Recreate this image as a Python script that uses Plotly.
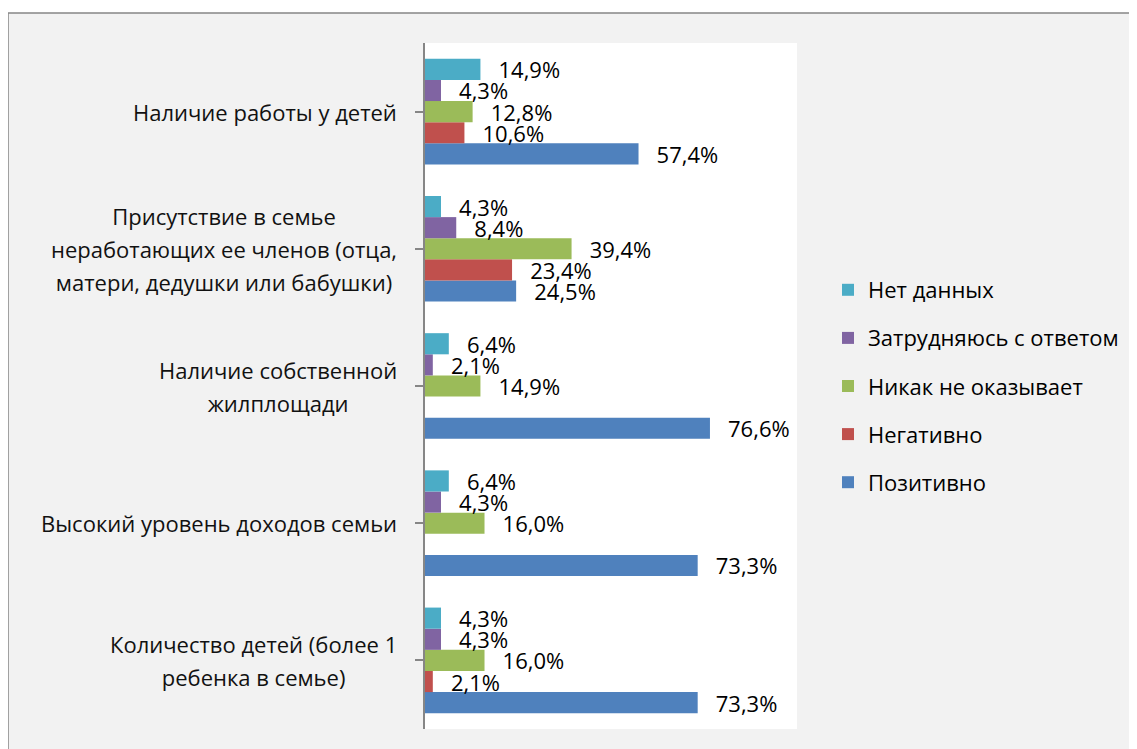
import plotly.graph_objects as go

# ---- data (bottom-to-top order, as in the source spreadsheet) ----
categories = [
    "Количество детей (более 1<br>ребенка в семье)",
    "Высокий уровень доходов семьи",
    "Наличие собственной<br>жилплощади",
    "Присутствие в семье<br>неработающих ее членов (отца,<br>матери, дедушки или бабушки)",
    "Наличие работы у детей",
]
series_names = ["Позитивно", "Негативно", "Никак не оказывает", "Затрудняюсь с ответом", "Нет данных"]
pozitivno = [73.3, 73.3, 76.6, 24.5, 57.4]
negativno = [2.1, None, None, 23.4, 10.6]
nikak = [16.0, 16.0, 14.9, 39.4, 12.8]
zatrud = [4.3, 4.3, 2.1, 8.4, 4.3]
net_dannyh = [4.3, 6.4, 6.4, 4.3, 14.9]
series_values = [pozitivno, negativno, nikak, zatrud, net_dannyh]
colors = ["#4F81BD", "#C0504D", "#9BBB59", "#8064A2", "#4BACC6"]

FONT = "Open Sans"
FS = 22

W, H = 1137, 749
ML, MR, MT, MB = 417, 348, 35, 28
PW, PH = W - ML - MR, H - MT - MB

def fmt(v):
    return "" if v is None else "\u00a0\u00a0\u2009" + f"{v:.1f}".replace(".", ",") + "%"

cat_ids = list(range(len(categories)))

fig = go.Figure()
n = len(series_names)
for i, (name, vals, col) in enumerate(zip(series_names, series_values, colors)):
    fig.add_trace(go.Bar(
        y=cat_ids, x=vals, orientation="h", name=name,
        marker=dict(color=col, line=dict(width=0)),
        text=[fmt(v) for v in vals], textposition="outside",
        textfont=dict(family=FONT, size=FS, color="#000000"),
        constraintext="none", cliponaxis=False,
        legendgroup=name, legendrank=n - i,
    ))

# category labels as centred multi-line annotations
for i, c in enumerate(categories):
    lines = c.split("<br>")
    txt = "<br>".join(f'<span style="font-size:{FS}px">{ln}</span>' for ln in lines)
    fig.add_annotation(
        x=0, xref="paper", y=i, yref="y", text=txt, showarrow=False,
        xanchor="right", yanchor="middle", align="center", xshift=-26,
        font=dict(family=FONT, size=25.5, color="#111111"),
    )

def px2x(px):
    return (px - ML) / PW

def py2y(py):
    return (H - MB - py) / PH

shapes = [
    dict(type="rect", xref="paper", yref="paper",
         x0=px2x(0), x1=px2x(W + 20), y0=py2y(H + 20), y1=py2y(5),
         fillcolor="#F2F2F2", line=dict(color="#878787", width=1.5), layer="below"),
    dict(type="rect", xref="paper", yref="paper", x0=0, x1=1, y0=0, y1=1,
         fillcolor="#FFFFFF", line=dict(width=0), layer="below"),
]

fig.update_layout(
    width=W, height=H, autosize=False,
    margin=dict(l=ML, r=MR, t=MT, b=MB, pad=0),
    paper_bgcolor="#FFFFFF", plot_bgcolor="rgba(0,0,0,0)",
    barmode="group", bargap=0.23, bargroupgap=0,
    font=dict(family=FONT, size=FS, color="#000000"),
    shapes=shapes,
    showlegend=True,
    legend=dict(
        x=px2x(820), xanchor="left", y=0.5, yanchor="middle",
        traceorder="grouped", tracegroupgap=16.5,
        font=dict(family=FONT, size=FS, color="#000000"),
        bgcolor="rgba(0,0,0,0)",
    ),
    xaxis=dict(range=[0, 100], visible=False, fixedrange=True),
    yaxis=dict(
        range=[-0.5, len(categories) - 0.5], tickmode="array", tickvals=cat_ids,
        showticklabels=False, showline=True, linecolor="#868686", linewidth=1.5,
        ticks="outside", ticklen=8, tickcolor="#868686", tickwidth=1.5,
        tickson="boundaries", showgrid=False, zeroline=False, fixedrange=True,
    ),
)

fig.write_html("out.html")
